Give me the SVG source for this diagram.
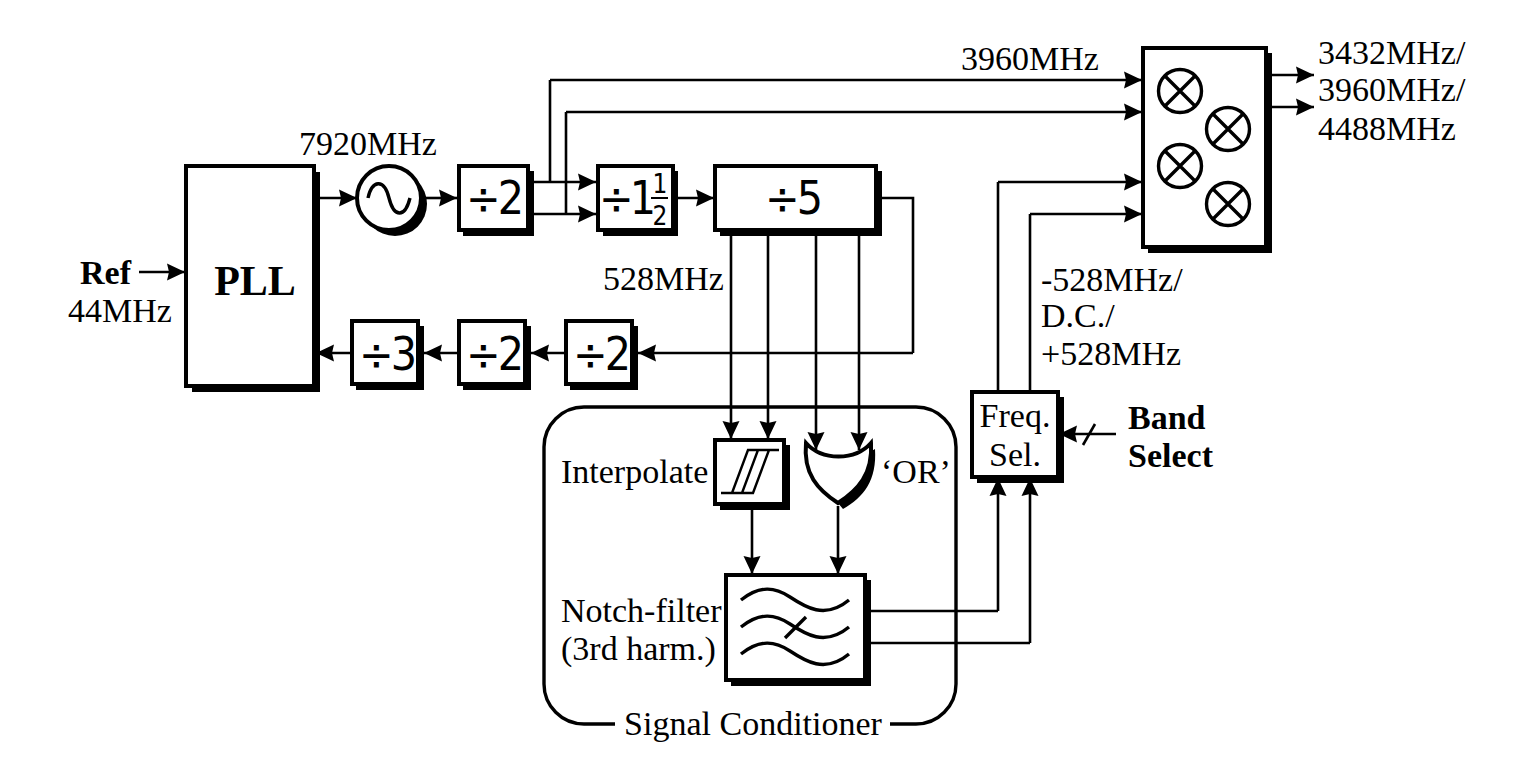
<svg xmlns="http://www.w3.org/2000/svg" width="1527" height="772" viewBox="0 0 1527 772">
<style>
text{font-family:"Liberation Serif","Times New Roman",serif;font-size:34px;fill:#000}
.b{font-weight:bold}
.d{font-family:"DejaVu Sans Condensed","DejaVu Sans",sans-serif;font-size:46px;letter-spacing:-3px}
.f{font-family:"DejaVu Sans Condensed","DejaVu Sans",sans-serif;font-size:26px;text-anchor:middle}
.box{fill:#fff;stroke:#000;stroke-width:4}
.sh{fill:#000}
.w{fill:none;stroke:#000;stroke-width:2.6}
.a{fill:none;stroke:#000;stroke-width:2.6;marker-end:url(#ah)}
.t{fill:none;stroke:#000;stroke-width:3.4}
.m{text-anchor:middle}
</style>
<defs>
<marker id="ah" markerUnits="userSpaceOnUse" markerWidth="20" markerHeight="18" refX="18" refY="8.5" orient="auto" overflow="visible"><path d="M0,0L18,8.5L0,17L2,8.5Z" fill="#000"/></marker>
</defs>
<rect width="1527" height="772" fill="#fff"/>

<g id="connectors">
<path class="a" d="M139,272H185"/>
<path class="a" d="M315,198H357"/>
<path class="a" d="M425,198H457"/>
<path class="a" d="M534,182H596"/>
<path class="a" d="M534,214H596"/>
<path class="w" d="M550,182V80"/>
<path class="a" d="M550,80H1142"/>
<path class="w" d="M566,214V112"/>
<path class="a" d="M566,112H1142"/>
<path class="a" d="M678,198H714"/>
<path class="w" d="M882,198H913V353"/>
<path class="a" d="M913,353H638"/>
<path class="a" d="M566,353H531"/>
<path class="a" d="M459,353H424"/>
<path class="a" d="M352,353H316"/>
<path class="a" d="M731,236V439"/>
<path class="a" d="M768,236V439"/>
<path class="a" d="M816,236V450"/>
<path class="a" d="M859,236V450"/>
<path class="a" d="M752,510V574"/>
<path class="a" d="M838,506V574"/>
<path class="w" d="M871,611H998"/>
<path class="a" d="M998,611V478"/>
<path class="w" d="M871,643H1030"/>
<path class="a" d="M1030,643V478"/>
<path class="w" d="M998,391V182"/>
<path class="a" d="M998,182H1142"/>
<path class="w" d="M1030,391V214"/>
<path class="a" d="M1030,214H1142"/>
<path class="a" d="M1272,75H1314"/>
<path class="a" d="M1272,107H1314"/>
<path class="a" d="M1116,434H1059"/>
<path class="w" d="M1083,445L1095,424"/>
</g>

<g id="pll"><rect class="sh" x="192" y="172" width="128" height="220"/><rect class="box" x="186" y="166" width="128" height="220"/><text class="b m" x="255" y="295" style="font-size:42px">PLL</text></g>
<g id="vco"><circle class="sh" cx="395" cy="204" r="32"/><circle class="box" cx="389" cy="198" r="32"/><path class="t" d="M368,198C372,180 384,178 389,198S405,218 410,198"/></g>
<g id="div2a"><rect class="sh" x="463" y="171" width="71" height="65"/><rect class="box" x="459" y="166" width="69" height="64"/><text class="d" x="466" y="214">÷2</text></g>
<g id="div1h"><rect class="sh" x="603" y="171" width="75" height="65"/><rect class="box" x="598" y="166" width="75" height="64"/><text class="d" x="599" y="214" style="letter-spacing:-4px">÷1</text><text class="f" x="660" y="193">1</text><path d="M651,198H668" stroke="#000" stroke-width="2"/><text class="f" x="660" y="225">2</text></g>
<g id="div5"><rect class="sh" x="720" y="171" width="162" height="65"/><rect class="box" x="715" y="166" width="161" height="64"/><text class="d" x="765" y="214">÷5</text></g>
<g id="div3"><rect class="sh" x="356" y="326" width="68" height="64"/><rect class="box" x="352" y="321" width="66" height="63"/><text class="d" x="359" y="370">÷3</text></g>
<g id="div2b"><rect class="sh" x="463" y="326" width="68" height="64"/><rect class="box" x="459" y="321" width="66" height="63"/><text class="d" x="466" y="370">÷2</text></g>
<g id="div2c"><rect class="sh" x="570" y="326" width="68" height="64"/><rect class="box" x="566" y="321" width="66" height="63"/><text class="d" x="573" y="370">÷2</text></g>

<g id="mixer"><rect class="sh" x="1148" y="53" width="124" height="200"/><rect class="box" x="1143" y="48" width="123" height="199"/>
<g class="t"><circle cx="1180" cy="91" r="21.5"/><path d="M1165,76L1195,106M1195,76L1165,106"/><circle cx="1228" cy="129" r="21.5"/><path d="M1213,114L1243,144M1243,114L1213,144"/><circle cx="1180" cy="166" r="21.5"/><path d="M1165,151L1195,181M1195,151L1165,181"/><circle cx="1228" cy="204" r="21.5"/><path d="M1213,189L1243,219M1243,189L1213,219"/></g></g>

<g id="freqsel"><rect class="sh" x="977" y="397" width="87" height="86"/><rect class="box" x="972" y="392" width="86" height="85"/><text class="m" x="1015" y="427">Freq.</text><text class="m" x="1015" y="466">Sel.</text></g>

<g id="conditioner"><path d="M615,724H584A40,40 0 0 1 544,684V447A40,40 0 0 1 584,407H916A40,40 0 0 1 956,447V684A40,40 0 0 1 916,724H890" fill="none" stroke="#000" stroke-width="3.4"/><text class="m" x="753" y="735">Signal Conditioner</text></g>

<g id="interpolate"><rect class="sh" x="720" y="445" width="70" height="65"/><rect class="box" x="715" y="440" width="69" height="64"/><path d="M721,493H753L769,450M732,493L748,450H779M742,493L758,450" fill="none" stroke="#000" stroke-width="2.4"/><text x="561" y="483">Interpolate</text></g>

<g id="or"><path class="sh" d="M810,445C826,461 856,461 875,449C877,480 864,497 843,509L838,503Z"/><path d="M806,443C822,461 855,461 871,443C873,474 858,490 838,503C818,490 803,474 806,443Z" fill="#fff" stroke="#000" stroke-width="4"/><text x="881" y="483">‘OR’</text></g>

<g id="notch"><rect class="sh" x="731" y="580" width="140" height="106"/><rect class="box" x="726" y="575" width="139" height="105"/>
<g class="t"><path d="M741,600C760,585 775,587 790,597S825,620 849,600"/><path d="M741,627C760,612 775,614 790,624S825,647 849,627"/><path d="M741,654C760,639 775,641 790,651S825,674 849,654"/><path d="M785,638L806,617"/></g>
<text x="561" y="622">Notch-filter</text><text x="561" y="660">(3rd harm.)</text></g>

<g id="labels">
<text class="b" x="80" y="284">Ref</text>
<text x="68" y="322">44MHz</text>
<text x="299" y="155">7920MHz</text>
<text x="961" y="70">3960MHz</text>
<text x="603" y="290">528MHz</text>
<text x="1318" y="64">3432MHz/</text>
<text x="1318" y="101">3960MHz/</text>
<text x="1318" y="140">4488MHz</text>
<text x="1041" y="291">-528MHz/</text>
<text x="1041" y="327">D.C./</text>
<text x="1041" y="365">+528MHz</text>
<text class="b" x="1128" y="429">Band</text>
<text class="b" x="1128" y="467">Select</text>
</g>
</svg>
